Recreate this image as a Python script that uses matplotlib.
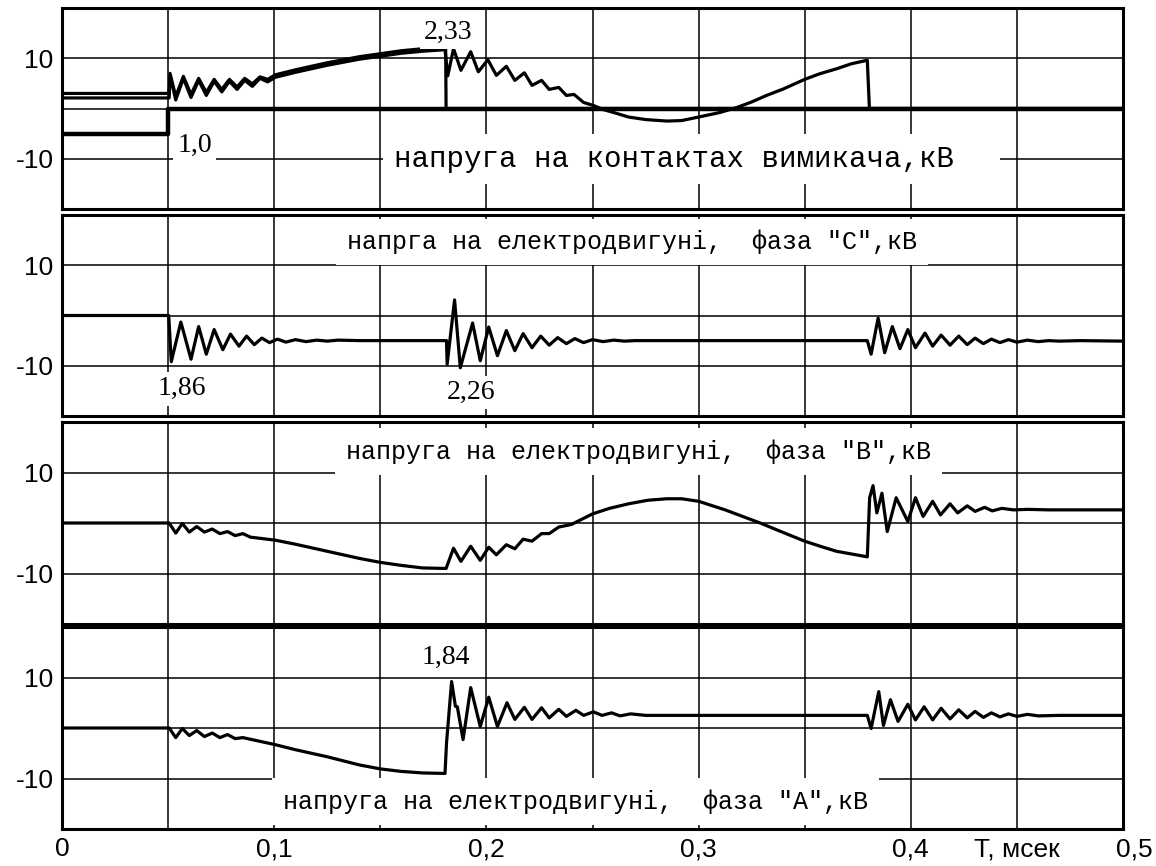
import numpy as np
import matplotlib
matplotlib.use('Agg')
import matplotlib.pyplot as plt

plt.rcParams['font.family'] = ['Liberation Sans', 'DejaVu Sans']
plt.rcParams['axes.unicode_minus'] = False

# ---- panel 1: voltage on the breaker contacts, kV ----
sw_step_t = [0, 0.05, 0.05, 0.5]
sw_step_u = [-5, -5, 0, 0]

sw_first_t = [0, 0.0505, 0.0509, 0.0536, 0.0572, 0.0608, 0.0644, 0.068, 0.0717, 0.0753,
              0.0789, 0.0825, 0.0861, 0.0897, 0.0933, 0.0969, 0.1005, 0.11, 0.125, 0.14,
              0.15, 0.16, 0.17, 0.1808, 0.181, 0.5]
sw_first_u = [3.0, 3.0, 7.0, 2.4, 6.4, 2.8, 6.0, 3.2, 5.8, 3.8,
              5.8, 4.3, 6.0, 4.9, 6.3, 5.8, 6.7, 7.7, 9.1, 10.3,
              10.9, 11.5, 11.9, 12.1, 0, 0]

sw_main_t = [0, 0.0505, 0.0509, 0.0536, 0.0572, 0.0608, 0.0644, 0.068, 0.0717, 0.0753,
             0.0789, 0.0825, 0.0861, 0.0897, 0.0933, 0.0969, 0.1005, 0.11, 0.125, 0.14,
             0.15, 0.16, 0.17, 0.1805, 0.1818, 0.1845, 0.188, 0.1926, 0.1962, 0.2007,
             0.2047, 0.2094, 0.2134, 0.2179, 0.2215, 0.226, 0.2296, 0.2341, 0.2377, 0.2413,
             0.2458, 0.2504, 0.255, 0.26, 0.267, 0.275, 0.285, 0.292, 0.3, 0.31,
             0.318, 0.325, 0.332, 0.34, 0.35, 0.357, 0.365, 0.372, 0.3795, 0.3805, 0.5]
sw_main_u = [2.1, 2.1, 6.6, 1.7, 6.0, 2.2, 5.6, 2.6, 5.4, 3.3,
             5.4, 3.8, 5.6, 4.4, 6.0, 5.3, 6.2, 7.2, 8.6, 9.8,
             10.4, 11.0, 11.4, 11.7, 6.5, 11.9, 7.6, 11.3, 7.3, 9.7,
             6.6, 8.4, 5.6, 7.1, 4.6, 5.6, 3.8, 4.2, 2.6, 2.8,
             1.2, 0.6, -0.2, -0.8, -1.7, -2.2, -2.5, -2.4, -1.7, -0.8,
             0.2, 1.3, 2.6, 3.9, 5.8, 6.9, 7.9, 8.9, 9.6, 0, 0]

# ---- panel 2: motor voltage, phase C ----
ph_c_t = [0, 0.0503, 0.0515, 0.056, 0.0608, 0.0644, 0.068, 0.0717, 0.0758, 0.0794,
          0.0834, 0.087, 0.0906, 0.0942, 0.0978, 0.1015, 0.1055, 0.11, 0.115, 0.12,
          0.125, 0.13, 0.14, 0.1812, 0.1815, 0.185, 0.1877, 0.1935, 0.1971, 0.2011,
          0.2052, 0.2094, 0.2134, 0.2173, 0.2215, 0.2256, 0.2296, 0.2336, 0.2377, 0.2417,
          0.2458, 0.25, 0.255, 0.26, 0.265, 0.27, 0.28, 0.3795, 0.3813, 0.3846,
          0.3877, 0.3913, 0.3949, 0.3986, 0.4022, 0.4067, 0.4103, 0.4143, 0.4185, 0.4226,
          0.4266, 0.4303, 0.4342, 0.438, 0.442, 0.446, 0.45, 0.455, 0.46, 0.465,
          0.47, 0.48, 0.5]
ph_c_u = [0, 0, -9.2, -1.3, -8.7, -2.2, -7.7, -2.8, -6.8, -3.7,
          -6.1, -4.1, -5.8, -4.5, -5.4, -4.7, -5.3, -4.8, -5.2, -4.9,
          -5.1, -4.9, -5.0, -5.0, -9.7, 3.1, -10.4, -1.5, -9.0, -2.3,
          -8.0, -3.0, -7.0, -3.6, -6.4, -4.1, -5.9, -4.4, -5.6, -4.6,
          -5.4, -4.8, -5.2, -4.9, -5.1, -5.0, -5.0, -5.0, -7.7, -0.5,
          -7.4, -2.2, -6.6, -2.8, -6.4, -3.5, -6.1, -3.9, -5.9, -4.1,
          -5.8, -4.5, -5.6, -4.7, -5.4, -4.8, -5.3, -4.9, -5.2, -5.0,
          -5.1, -5.0, -5.1]

# ---- panel 3: motor voltage, phase B ----
ph_b_t = [0, 0.0505, 0.0536, 0.0567, 0.06, 0.0635, 0.0671, 0.0708, 0.0744, 0.078,
          0.0816, 0.0852, 0.0888, 0.1005, 0.11, 0.125, 0.14, 0.15, 0.16, 0.17,
          0.1805, 0.181, 0.1845, 0.188, 0.1926, 0.1971, 0.2011, 0.2047, 0.2094, 0.2134,
          0.2173, 0.2215, 0.226, 0.2296, 0.2341, 0.24, 0.25, 0.258, 0.267, 0.276,
          0.285, 0.292, 0.3, 0.3125, 0.329, 0.34, 0.35, 0.358, 0.365, 0.3795,
          0.3806, 0.3822, 0.384, 0.3864, 0.3889, 0.3931, 0.3986, 0.4022, 0.4058, 0.4103,
          0.414, 0.4185, 0.4221, 0.4266, 0.4303, 0.4348, 0.4384, 0.4429, 0.4484, 0.455,
          0.465, 0.5]
ph_b_u = [0, 0, -2.0, -0.1, -1.8, -0.7, -1.8, -1.2, -2.1, -1.7,
          -2.5, -2.1, -2.8, -3.4, -4.2, -5.6, -7.0, -7.8, -8.4, -8.9,
          -9.0, -9.0, -5.0, -7.6, -4.6, -7.4, -4.8, -6.3, -4.3, -5.1,
          -3.2, -3.6, -2.1, -2.1, -0.8, -0.3, 1.8, 2.9, 3.8, 4.5,
          4.8, 4.8, 4.3, 2.6, 0.0, -1.9, -3.6, -4.7, -5.6, -6.7,
          5.0, 7.4, 2.0, 5.9, -1.7, 5.0, 0.3, 5.0, 1.3, 4.3,
          1.6, 3.8, 2.0, 3.4, 2.3, 3.1, 2.4, 2.9, 2.6, 2.7,
          2.6, 2.6]

# ---- panel 4: motor voltage, phase A ----
ph_a_t = [0, 0.0505, 0.0536, 0.0567, 0.06, 0.0635, 0.0671, 0.0708, 0.0744, 0.078,
          0.0816, 0.0852, 0.1005, 0.11, 0.125, 0.14, 0.15, 0.16, 0.17, 0.1805,
          0.1812, 0.1836, 0.1854, 0.1863, 0.189, 0.1926, 0.1971, 0.2011, 0.2052, 0.2097,
          0.2134, 0.2179, 0.2215, 0.226, 0.2296, 0.2341, 0.2377, 0.2422, 0.2458, 0.2504,
          0.2545, 0.259, 0.263, 0.268, 0.275, 0.3795, 0.3813, 0.3849, 0.3871, 0.3904,
          0.394, 0.3986, 0.4022, 0.4063, 0.4103, 0.4143, 0.4185, 0.4226, 0.4266, 0.4303,
          0.4342, 0.438, 0.442, 0.446, 0.45, 0.455, 0.46, 0.47, 0.5]
ph_a_u = [0, 0, -1.9, -0.1, -1.5, -0.5, -1.7, -1.0, -1.9, -1.3,
          -2.1, -1.9, -3.3, -4.3, -5.7, -7.3, -8.1, -8.6, -8.9, -9.0,
          -3.0, 9.2, 4.3, 4.2, -2.3, 8.0, 0.3, 6.1, 0.3, 5.0,
          1.7, 4.1, 1.7, 4.0, 2.0, 3.7, 2.3, 3.5, 2.5, 3.2,
          2.5, 3.0, 2.4, 2.8, 2.5, 2.5, -0.1, 7.2, 0.5, 5.6,
          1.3, 4.7, 1.6, 4.2, 1.6, 3.9, 1.8, 3.6, 2.0, 3.3,
          2.1, 3.0, 2.2, 2.8, 2.3, 2.7, 2.4, 2.5, 2.5]

x_tick_pos = [0, 0.05, 0.1, 0.15, 0.2, 0.25, 0.3, 0.35, 0.4, 0.45, 0.5]
x_tick_lab = ['0', '', '0,1', '', '0,2', '', '0,3', '', '0,4', 'T, мсек', '']
y_tick_pos = [-10, 0, 10]
y_tick_lab = ['-10', '', '10']

mono = ['Liberation Mono', 'DejaVu Sans Mono']
serif = ['Liberation Serif', 'DejaVu Serif']
white = dict(facecolor='white', edgecolor='none', pad=3)
white_big = dict(facecolor='white', edgecolor='none', pad=8)

fig = plt.figure(figsize=(11.56, 8.66), dpi=100)
W, H = 1156, 866
left, right = 62, 1123
rows = [(8, 209), (215, 416), (422, 624), (627, 829)]
axes = []
for top, bot in rows:
    ax = fig.add_axes([left / W, 1 - bot / H, (right - left) / W, (bot - top) / H])
    ax.set_xlim(0, 0.5)
    ax.set_ylim(-20, 20)
    ax.set_xticks(x_tick_pos)
    ax.set_yticks(y_tick_pos)
    ax.set_yticklabels(y_tick_lab, fontsize=19)
    ax.set_xticklabels(x_tick_lab, fontsize=19)
    ax.tick_params(length=0, pad=6)
    ax.grid(True, color='black', linewidth=1.1)
    for s in ax.spines.values():
        s.set_linewidth(2.2)
        s.set_color('black')
    if len(axes) < 3:
        ax.tick_params(labelbottom=False)
    axes.append(ax)

ax1, ax2, ax3, ax4 = axes
# last x label sits a little right of the frame edge
ax4.annotate('0,5', xy=(0.5, 0), xycoords=('data', 'axes fraction'),
             xytext=(11, -8.3), textcoords='offset pixels',
             ha='center', va='top', fontsize=19, annotation_clip=False)

line = dict(color='black', linewidth=2.3, zorder=3, solid_joinstyle='round')

ax1.plot(sw_step_t, sw_step_u, color='black', linewidth=3.2, zorder=3)
ax1.plot(sw_first_t, sw_first_u, **line)
ax1.plot(sw_main_t, sw_main_u, **line)
ax1.text(0.182, 15.2, '2,33', fontsize=20, family=serif, ha='center', va='center', bbox=white)
ax1.text(0.0626, -7.3, '1,0', fontsize=20, family=serif, ha='center', va='center', bbox=white)
ax1.text(0.1565, -10, 'напруга на контактах вимикача,кВ  ', fontsize=21, family=mono,
         ha='left', va='center', bbox=white_big)

ax2.plot(ph_c_t, ph_c_u, **line)
ax2.text(0.0563, -14.6, '1,86', fontsize=20, family=serif, ha='center', va='center', bbox=white)
ax2.text(0.1926, -15.3, '2,26', fontsize=20, family=serif, ha='center', va='center', bbox=white)
ax2.text(0.2685, 14.6, 'напрга на електродвигуні,  фаза "С",кВ', fontsize=18, family=mono,
         ha='center', va='center', bbox=white_big)

ax3.plot(ph_b_t, ph_b_u, **line)
ax3.text(0.2715, 14.2, 'напруга на електродвигуні,  фаза "В",кВ', fontsize=18, family=mono,
         ha='center', va='center', bbox=white_big)

ax4.plot(ph_a_t, ph_a_u, **line)
ax4.text(0.1809, 14.0, '1,84', fontsize=20, family=serif, ha='center', va='center', bbox=white)
ax4.text(0.242, -14.6, 'напруга на електродвигуні,  фаза "А",кВ', fontsize=18, family=mono,
         ha='center', va='center', bbox=white_big)

fig.savefig('out.png', dpi=100)
